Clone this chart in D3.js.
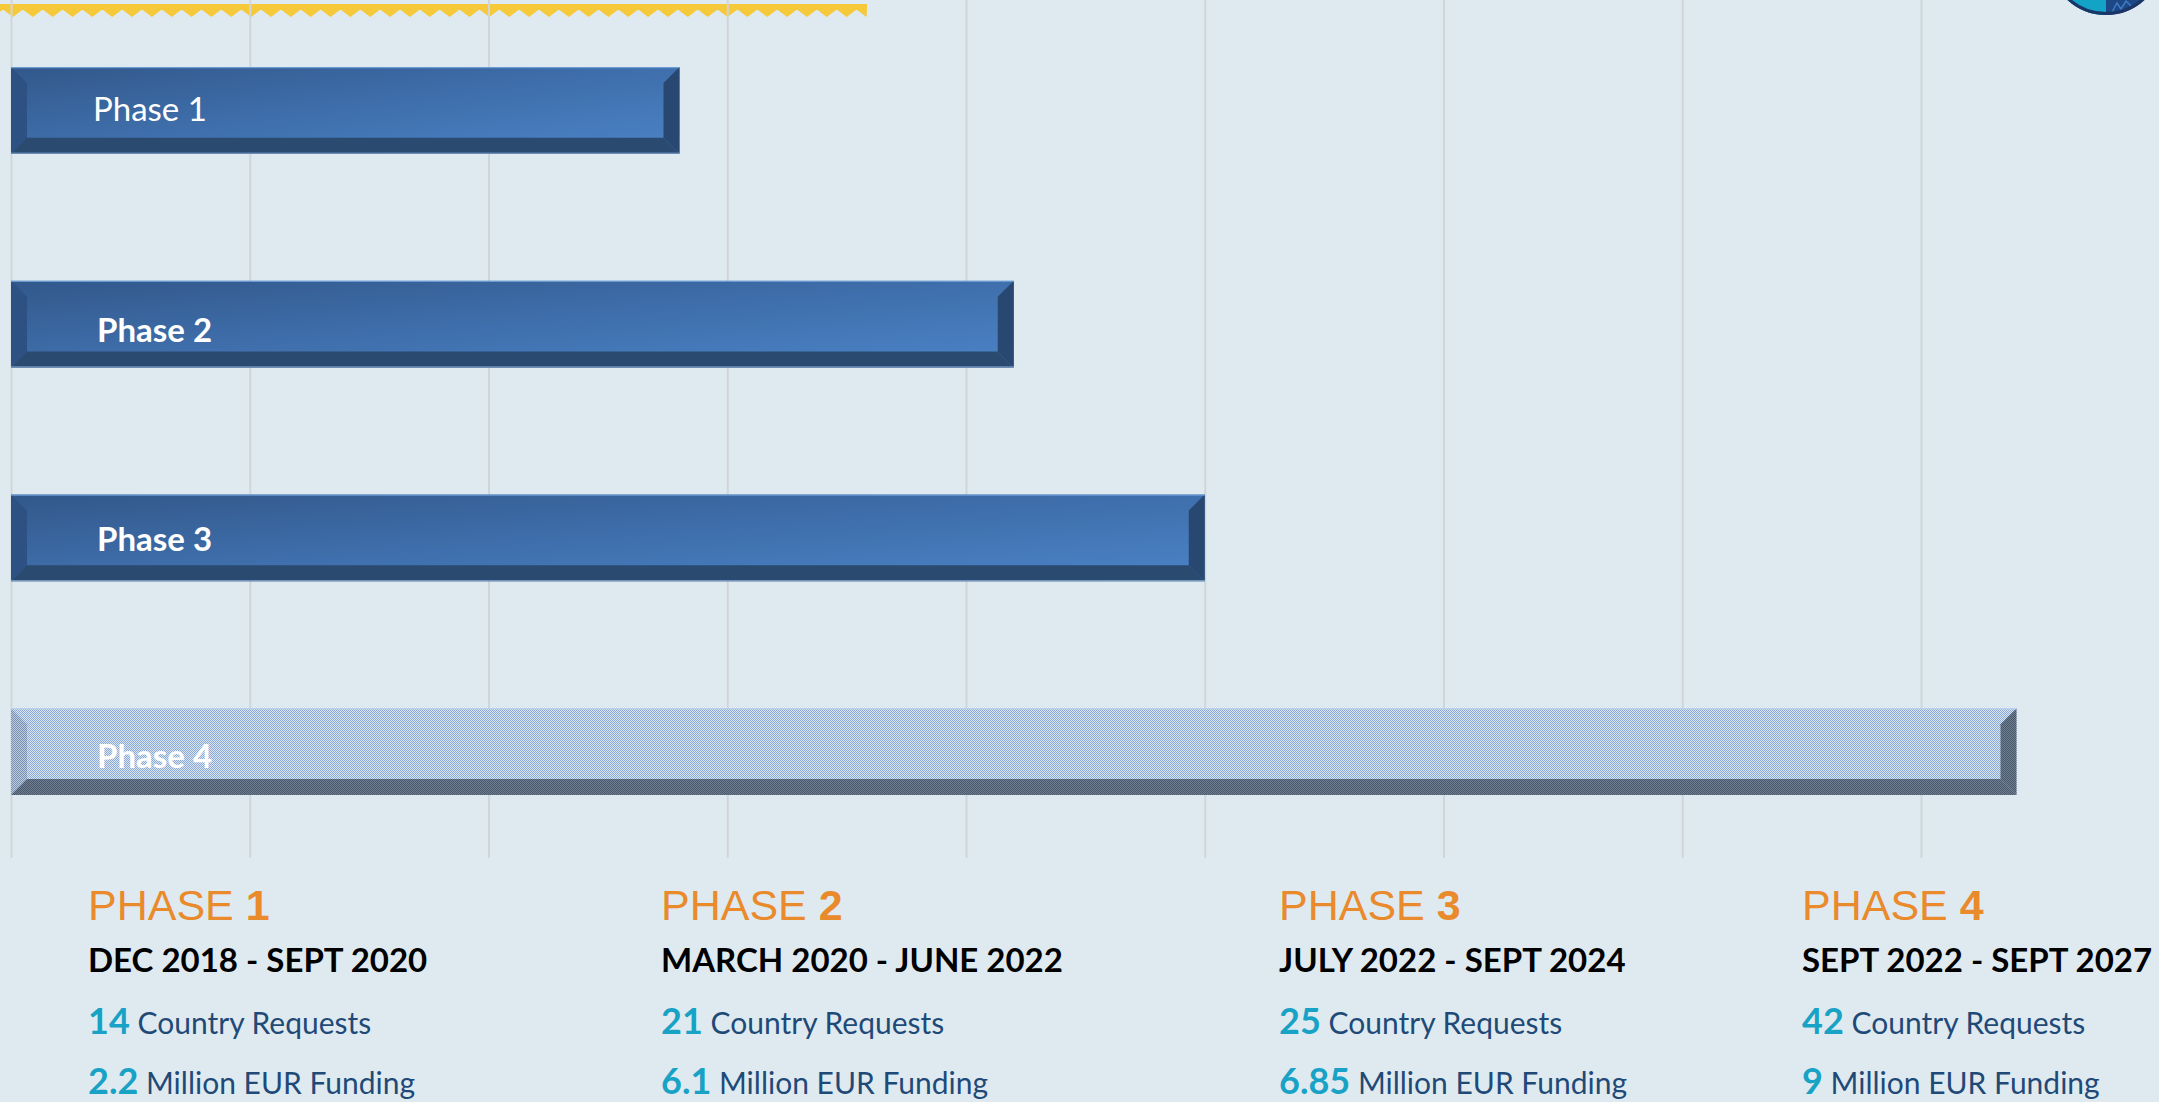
<!DOCTYPE html>
<html>
<head>
<meta charset="utf-8">
<script src="https://cdn.jsdelivr.net/npm/d3@7/dist/d3.min.js"></script>
<style>
  html, body { margin: 0; padding: 0; background: #DFEAF0; }
  svg { display: block; }
</style>
</head>
<body>
<svg id="chart" width="2159" height="1102"></svg>
<script>
// ---------- DATA ----------
const phases = ["Phase 1", "Phase 2", "Phase 3", "Phase 4"];
const requests = [14, 21, 25, 42];
const funding = ["2.2", "6.1", "6.85", "9"];
const periods = ["DEC 2018 - SEPT 2020", "MARCH 2020 - JUNE 2022", "JULY 2022 - SEPT 2024", "SEPT 2022 - SEPT 2027"];
const phaseNums = ["1", "2", "3", "4"];
const xTicks = [0, 5, 10, 15, 20, 25, 30, 35, 40];

// ---------- LAYOUT ----------
const W = 2159, H = 1102;
const svg = d3.select("#chart");
const x = d3.scaleLinear().domain([0, 40]).range([11, 1921]);
const y = d3.scaleBand().domain(phases).range([3, 859]).paddingInner(0.595).paddingOuter(0.3);
const gridBottom = 858;
const bev = 16;
const labelDy = [11, 18, 13, 16.5];

svg.append("rect").attr("width", W).attr("height", H).attr("fill", "#DFEAF0");

const defs = svg.append("defs");
const grad = defs.append("linearGradient").attr("id", "face").attr("x1", 0).attr("y1", 0).attr("x2", 1).attr("y2", 1);
grad.append("stop").attr("offset", "0%").attr("stop-color", "#32588B");
grad.append("stop").attr("offset", "50%").attr("stop-color", "#3F6FAC");
grad.append("stop").attr("offset", "100%").attr("stop-color", "#4B84C8");

function checker(id, c1, c2) {
  const p = defs.append("pattern").attr("id", id).attr("patternUnits", "userSpaceOnUse")
    .attr("width", 2).attr("height", 2);
  p.append("rect").attr("width", 2).attr("height", 2).attr("fill", c1);
  p.append("rect").attr("width", 1).attr("height", 1).attr("fill", c2);
  p.append("rect").attr("x", 1).attr("y", 1).attr("width", 1).attr("height", 1).attr("fill", c2);
}
checker("p4face", "#D8E6F5", "#8AA8D3");
checker("p4left", "#B8CAE0", "#7D92B0");
checker("p4dark", "#717F93", "#485769");

// ---------- ZIGZAG DECORATION ----------
const zz = svg.append("g");
zz.append("rect").attr("x", 0).attr("y", 4).attr("width", 867).attr("height", 6).attr("fill", "#F6C93A");
const period = 19.85;
const teeth = d3.range(-1, Math.ceil(867 / period));
zz.selectAll("path.tooth").data(teeth).join("path")
  .attr("class", "tooth")
  .attr("d", i => {
    const a = 3 + i * period, b = a + period;
    return `M${Math.max(0, a)},9.5 L${(a + b) / 2},17 L${Math.min(867, b)},9.5 Z`;
  })
  .attr("fill", "#F6C93A");

// ---------- GRIDLINES (axis) ----------
const gAxis = svg.append("g").attr("transform", "translate(0,0)")
  .call(d3.axisTop(x).tickValues(xTicks).tickSize(-gridBottom).tickFormat(""));
gAxis.select(".domain").remove();
gAxis.selectAll(".tick line").attr("stroke", "#D0D5D9").attr("stroke-width", 2);

// ---------- LOGO (partial) ----------
const logo = svg.append("g");
const cx = 2106, cy = -42, r = 57;
defs.append("clipPath").attr("id", "logoLeft").append("rect").attr("x", cx - r).attr("y", cy - r).attr("width", r).attr("height", 2 * r);
logo.append("circle").attr("cx", cx).attr("cy", cy).attr("r", r).attr("fill", "#1E4786");
logo.append("circle").attr("cx", cx).attr("cy", cy).attr("r", r).attr("fill", "#12A3C6").attr("clip-path", "url(#logoLeft)");
logo.append("path").attr("d", `M${cx + 6},12 L${cx + 11},3 L${cx + 15},9 L${cx + 20},1 L${cx + 25},6`)
  .attr("fill", "none").attr("stroke", "#3E7CC0").attr("stroke-width", 1.5);
logo.append("circle").attr("cx", cx).attr("cy", cy).attr("r", r - 1.5).attr("fill", "none").attr("stroke", "#1A3566").attr("stroke-width", 3);

// ---------- BARS ----------
const bars = svg.append("g");
phases.forEach((ph, i) => {
  const x0 = x(0), x1 = x(requests[i]);
  const y0 = y(ph), y1 = y0 + y.bandwidth();
  const hatched = i === 3;
  const g = bars.append("g");
  g.append("rect").attr("x", x0).attr("y", y0).attr("width", x1 - x0).attr("height", y1 - y0)
    .attr("fill", hatched ? "url(#p4face)" : "url(#face)");
  // left bevel
  g.append("path").attr("d", `M${x0},${y0} L${x0 + bev},${y0 + bev} L${x0 + bev},${y1 - bev} L${x0},${y1} Z`)
    .attr("fill", hatched ? "url(#p4left)" : "#2D5183");
  // right bevel
  g.append("path").attr("d", `M${x1},${y0} L${x1 - bev},${y0 + bev} L${x1 - bev},${y1 - bev} L${x1},${y1} Z`)
    .attr("fill", hatched ? "url(#p4dark)" : "#284871");
  // bottom bevel
  g.append("path").attr("d", `M${x0},${y1} L${x0 + bev},${y1 - bev} L${x1 - bev},${y1 - bev} L${x1},${y1} Z`)
    .attr("fill", hatched ? "url(#p4dark)" : "#2B4A6F");
  if (!hatched) {
    g.append("line").attr("x1", x0).attr("x2", x1).attr("y1", y0 + 0.5).attr("y2", y0 + 0.5)
      .attr("stroke", "#6A9AD4").attr("stroke-width", 1.2);
    g.append("line").attr("x1", x0).attr("x2", x1).attr("y1", y1 - 0.5).attr("y2", y1 - 0.5)
      .attr("stroke", "#7FA3CE").attr("stroke-width", 1);
  } else {
    g.append("line").attr("x1", x0).attr("x2", x1).attr("y1", y0 + 0.5).attr("y2", y0 + 0.5)
      .attr("stroke", "#B8D0EE").attr("stroke-width", 1.2);
  }
  g.append("text")
    .attr("x", i === 0 ? 93 : 97)
    .attr("y", y0 + y.bandwidth() / 2 + labelDy[i])
    .attr("fill", "#FFFFFF")
    .attr("font-family", "Lato, 'Open Sans', sans-serif")
    .attr("font-size", 33)
    .attr("font-weight", i === 0 ? 400 : 700)
    .text(ph);
});

// ---------- BOTTOM INFO COLUMNS ----------
const colX = [88, 661, 1279, 1802];
const info = svg.append("g");
phases.forEach((ph, i) => {
  const cxp = colX[i];
  const t1 = info.append("text").attr("x", cxp).attr("y", 920)
    .attr("font-family", "'Liberation Sans', Arial, sans-serif").attr("font-size", 43).attr("fill", "#E98A2C");
  t1.append("tspan").text("PHASE ");
  t1.append("tspan").attr("font-weight", 700).text(phaseNums[i]);

  info.append("text").attr("x", cxp).attr("y", 972)
    .attr("font-family", "Lato, sans-serif").attr("font-size", 33).attr("font-weight", 700).attr("fill", "#000000")
    .text(periods[i]);

  const t3 = info.append("text").attr("x", cxp).attr("y", 1034).attr("font-family", "Lato, sans-serif");
  t3.append("tspan").attr("font-size", 36).attr("font-weight", 700).attr("fill", "#17A2C6").text(requests[i]);
  t3.append("tspan").attr("font-size", 30).attr("fill", "#1F4A78").text(" Country Requests");

  const t4 = info.append("text").attr("x", cxp).attr("y", 1094).attr("font-family", "Lato, sans-serif");
  t4.append("tspan").attr("font-size", 36).attr("font-weight", 700).attr("fill", "#17A2C6").text(funding[i]);
  t4.append("tspan").attr("font-size", 30).attr("fill", "#1F4A78").text(" Million EUR Funding");
});
</script>
</body>
</html>
